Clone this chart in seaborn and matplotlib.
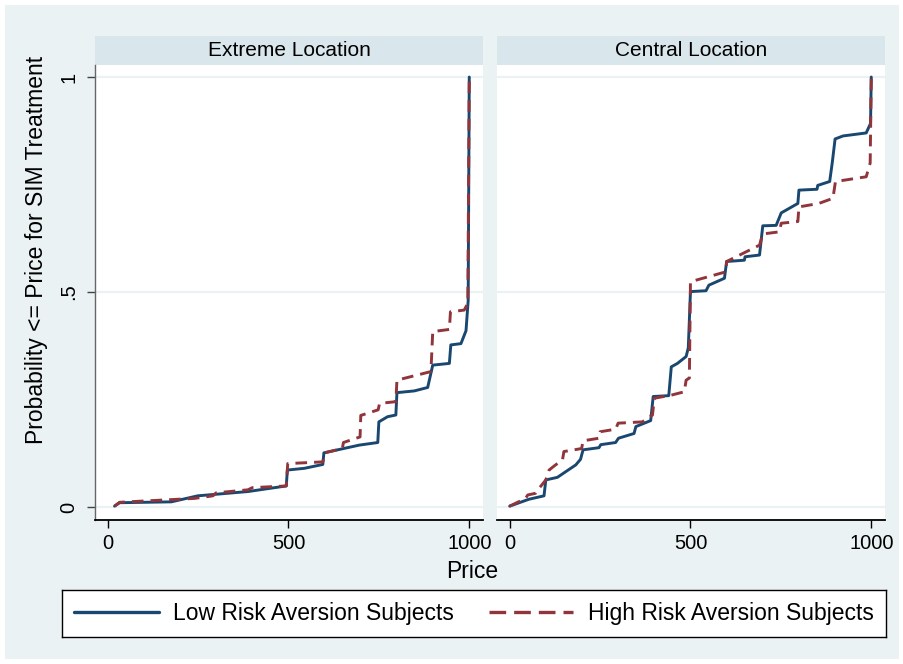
import numpy as np
import pandas as pd
import matplotlib
matplotlib.use("Agg")
import matplotlib.pyplot as plt
from matplotlib.patches import Rectangle
from matplotlib.lines import Line2D
import seaborn as sns

# Cumulative distributions of accepted prices, SIM treatment
locations = ["Extreme Location", "Central Location"]
groups = ["Low Risk Aversion Subjects", "High Risk Aversion Subjects"]

extreme_low_price = [19, 33, 176, 249, 388, 494, 497, 544, 595, 598, 696, 747, 750, 774,
                     797, 800, 848, 885, 899, 945, 949, 977, 991, 997, 1000]
extreme_low_prob = [0.002, 0.010, 0.012, 0.026, 0.036, 0.049, 0.086, 0.090, 0.099, 0.126,
                    0.144, 0.150, 0.198, 0.210, 0.214, 0.266, 0.270, 0.278, 0.330, 0.334,
                    0.377, 0.380, 0.410, 0.480, 1.0]

extreme_high_price = [19, 33, 240, 291, 300, 388, 400, 494, 498, 595, 600, 649, 652, 698,
                      700, 748, 752, 797, 800, 894, 899, 945, 948, 986, 996, 1000]
extreme_high_prob = [0.002, 0.011, 0.020, 0.026, 0.033, 0.040, 0.045, 0.049, 0.101, 0.105,
                     0.126, 0.136, 0.150, 0.163, 0.213, 0.226, 0.241, 0.245, 0.295, 0.315,
                     0.408, 0.413, 0.454, 0.458, 0.474, 1.0]

central_low_price = [0, 53, 95, 100, 132, 146, 183, 196, 203, 247, 252, 293, 301, 344, 349,
                     390, 397, 440, 447, 464, 488, 494, 500, 543, 551, 594, 600, 649, 651,
                     691, 700, 737, 751, 774, 797, 800, 850, 852, 885, 892, 900, 922, 986,
                     998, 1000]
central_low_prob = [0.002, 0.018, 0.026, 0.063, 0.069, 0.077, 0.098, 0.111, 0.133, 0.138,
                    0.145, 0.150, 0.160, 0.171, 0.187, 0.201, 0.257, 0.259, 0.326, 0.334,
                    0.350, 0.370, 0.501, 0.503, 0.516, 0.532, 0.571, 0.574, 0.582, 0.586,
                    0.654, 0.655, 0.684, 0.695, 0.706, 0.737, 0.739, 0.748, 0.757, 0.800,
                    0.856, 0.863, 0.870, 0.892, 1.0]

central_high_price = [0, 44, 50, 72, 81, 100, 109, 127, 146, 150, 199, 203, 247, 250, 293,
                      300, 367, 395, 400, 446, 483, 488, 497, 500, 598, 600, 691, 700, 746,
                      751, 797, 800, 855, 894, 901, 986, 997, 1000]
central_high_prob = [0.002, 0.020, 0.028, 0.032, 0.043, 0.063, 0.086, 0.098, 0.109, 0.129,
                     0.136, 0.154, 0.160, 0.175, 0.181, 0.195, 0.198, 0.214, 0.253, 0.260,
                     0.268, 0.295, 0.300, 0.524, 0.547, 0.571, 0.609, 0.635, 0.640, 0.660,
                     0.664, 0.698, 0.706, 0.718, 0.757, 0.768, 0.800, 1.0]

x_ticks = [0, 500, 1000]
y_ticks = [0, 0.5, 1]
y_tick_labels = ["0", ".5", "1"]

series = [
    (locations[0], groups[0], extreme_low_price, extreme_low_prob),
    (locations[0], groups[1], extreme_high_price, extreme_high_prob),
    (locations[1], groups[0], central_low_price, central_low_prob),
    (locations[1], groups[1], central_high_price, central_high_prob),
]
frames = [pd.DataFrame({"Price": p, "Prob": q, "location": loc, "group": g})
          for loc, g, p, q in series]
df = pd.concat(frames, ignore_index=True)

sns.set_theme(style="white")
plt.rcParams["font.family"] = ["Liberation Sans", "DejaVu Sans"]
plt.rcParams.update({"text.color": "black", "axes.labelcolor": "black",
                     "xtick.color": "black", "ytick.color": "black"})

BG = "#EAF2F3"
STRIP = "#D9E6EB"
NAVY = "#1A476F"
MAROON = "#90353B"
LW = 2.1
DASH = (4.0, 2.4)
palette = {groups[0]: NAVY, groups[1]: MAROON}
dashes = {groups[0]: "", groups[1]: DASH}

W, H = 904, 664
fig = plt.figure(figsize=(W / 100, H / 100), dpi=100)
fig.patch.set_facecolor("white")
fig.add_artist(Rectangle((5 / W, 5 / H), 894 / W, 654 / H, transform=fig.transFigure,
                         facecolor=BG, edgecolor="none", zorder=-10))

panel_left = [95, 497]
ax_bottom_px, ax_top_px = 520, 65
strip_h = 29 / (ax_bottom_px - ax_top_px)

for i, loc in enumerate(locations):
    ax = fig.add_axes([panel_left[i] / W, (H - ax_bottom_px) / H, 388 / W,
                       (ax_bottom_px - ax_top_px) / H])
    ax.set_facecolor("white")
    sub = df[df["location"] == loc]
    sns.lineplot(data=sub, x="Price", y="Prob", hue="group", style="group",
                 palette=palette, dashes=dashes, estimator=None, sort=False,
                 linewidth=LW, legend=False, ax=ax, zorder=3)
    ax.set_xlim(-35, 1038)
    ax.set_ylim(-0.0302, 1.028)
    ax.set_xticks(x_ticks)
    ax.set_xticklabels([str(t) for t in x_ticks], fontsize=14.5, color="black")
    ax.set_yticks(y_ticks)
    ax.yaxis.grid(True, color=BG, linewidth=1.6, zorder=0)
    ax.xaxis.grid(False)
    ax.set_xlabel("")
    ax.set_ylabel("")
    for s in ["top", "right"]:
        ax.spines[s].set_visible(False)
    ax.spines["bottom"].set_color("black")
    ax.spines["bottom"].set_linewidth(1.3)
    ax.tick_params(axis="x", bottom=True, length=6, width=1, color="black",
                   pad=4, labelsize=14.5)
    if i == 0:
        ax.spines["left"].set_color("#666666")
        ax.spines["left"].set_linewidth(1.0)
        ax.set_yticklabels(y_tick_labels, rotation=90, va="center", fontsize=14.5,
                           color="black")
        ax.tick_params(axis="y", left=True, length=6, width=1, color="#444444", pad=6)
    else:
        ax.spines["left"].set_visible(False)
        ax.tick_params(axis="y", left=False, labelleft=False)
    # panel strip
    ax.add_patch(Rectangle((0, 1), 1, strip_h, transform=ax.transAxes, clip_on=False,
                           facecolor=STRIP, edgecolor="none"))
    ax.text(0.5, 1 + strip_h / 2, loc, transform=ax.transAxes, ha="center", va="center",
            fontsize=15, color="black")

fig.text(37 / W, 1 - 250 / H, "Probability <= Price for SIM Treatment", rotation=90,
         ha="center", va="center", fontsize=16.5, color="black")
fig.text(472 / W, 1 - 572 / H, "Price", ha="center", va="center", fontsize=16.5,
         color="black")

# legend box
lax = fig.add_axes([62 / W, (H - 637) / H, 824 / W, 47 / H])
lax.set_facecolor("white")
lax.set_xticks([])
lax.set_yticks([])
for s in lax.spines.values():
    s.set_color("black")
    s.set_linewidth(1.0)
handles = [Line2D([0], [0], color=NAVY, linewidth=2.4),
           Line2D([0], [0], color=MAROON, linewidth=2.4, dashes=(5.0, 2.4))]
lax.legend(handles, groups, loc="center", ncol=2, frameon=False, fontsize=16.5,
           handlelength=3.7, handletextpad=0.62, columnspacing=1.5,
           labelcolor="black")

fig.savefig("out.png", dpi=100, facecolor=fig.get_facecolor())
